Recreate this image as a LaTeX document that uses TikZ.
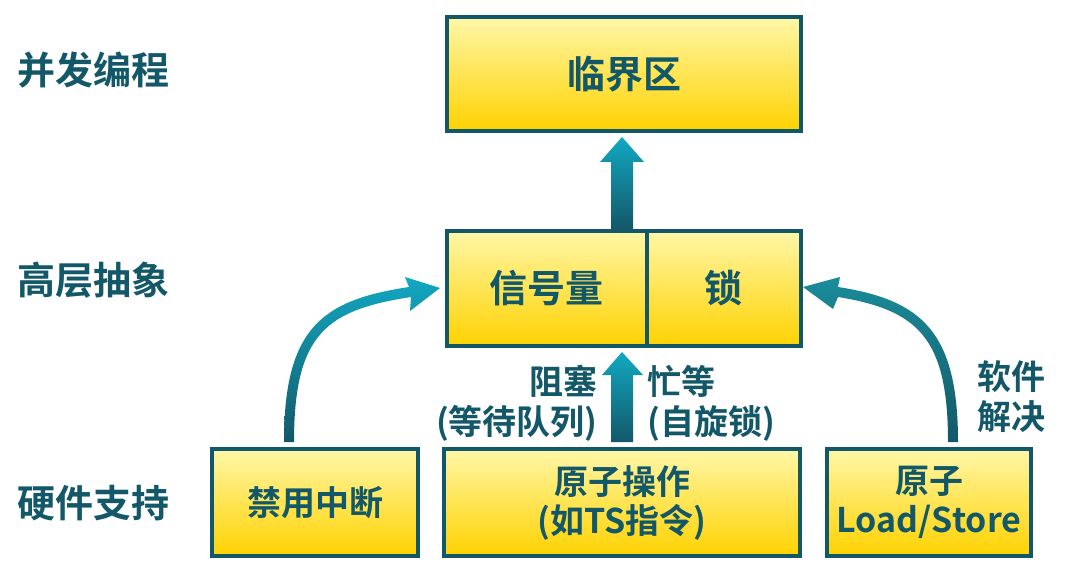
\documentclass[tikz,border=0pt]{standalone}
\usepackage{fontspec}
\setmainfont{Noto Sans CJK SC}[BoldFont={Noto Sans CJK SC Bold}]
\definecolor{dteal}{HTML}{135868}
\definecolor{alight}{HTML}{12A8C2}
\definecolor{amid}{HTML}{1A8C9A}
\definecolor{ylight}{HTML}{FFF7A8}
\definecolor{ydark}{HTML}{FFD200}
\begin{document}
\begin{tikzpicture}[x=1pt,y=-1pt,
  box/.style={draw=dteal, line width=4pt, top color=ylight, bottom color=ydark,
    inner sep=0pt, text=dteal, align=center, font=\bfseries\fontsize{34}{39}\selectfont},
  bigbox/.style={box, font=\bfseries\fontsize{38}{44}\selectfont},
  side/.style={text=dteal, font=\bfseries\fontsize{38}{44}\selectfont, inner sep=0pt},
  lbl/.style={text=dteal, font=\bfseries\fontsize{34}{40}\selectfont, inner sep=0pt},
  arr/.style={top color=alight, bottom color=dteal, draw=none},
  arrdark/.style={top color=amid, bottom color=dteal, draw=none}]
\useasboundingbox (0,0) rectangle (1081,585);
\fill[white] (0,0) rectangle (1081,585);

% left labels
\node[side] (l1) at (93,70) {并发编程};
\node[side] (l2) at (93,280) {高层抽象};
\node[side] (l3) at (93,503) {硬件支持};

% boxes
\node[bigbox, minimum width=354pt, minimum height=114pt] (crit) at (624,74) {临界区};
\node[bigbox, minimum width=199.5pt, minimum height=115pt] (sem) at (546.75,288.5) {信号量};
\node[bigbox, minimum width=154.5pt, minimum height=115pt] (lock) at (723.75,288.5) {锁};
\node[box, minimum width=206pt, minimum height=107pt] (intr) at (315,502.5) {禁用中断};
\node[box, minimum width=356pt, minimum height=107pt] (atom) at (622,502.5) {原子操作\\(如TS指令)};
\node[box, minimum width=204pt, minimum height=107pt] (ls) at (929,502.5) {原子\\Load/Store};

% straight arrows
\path[arr] (622,137) -- (644,162) -- (633,162) -- (633,229) -- (611,229) -- (611,162) -- (600,162) -- cycle;
\path[arr] (622,352) -- (643,375) -- (633,375) -- (633,442) -- (611,442) -- (611,375) -- (602,375) -- cycle;

% curved arrows
\path[arr] (284,442) .. controls (284,327) and (323,300) .. (409,287) -- (405,277) -- (440,288)
  -- (410,311) -- (411,297) .. controls (327,310) and (294,333) .. (294,442) -- cycle;
\path[arrdark] (958,442) .. controls (958,332) and (922,300) .. (838,287) -- (840,277) -- (803,287)
  -- (833,309) -- (838,297) .. controls (918,310) and (948,338) .. (948,442) -- cycle;

% arrow labels
\node[lbl, align=right, anchor=east] (block) at (598,403) {阻塞\\(等待队列)};
\node[lbl, align=left, anchor=west] (busy) at (647,403) {忙等\\(自旋锁)};
\node[lbl, align=left, anchor=west] (soft) at (977,397) {软件\\解决};
\end{tikzpicture}
\end{document}
